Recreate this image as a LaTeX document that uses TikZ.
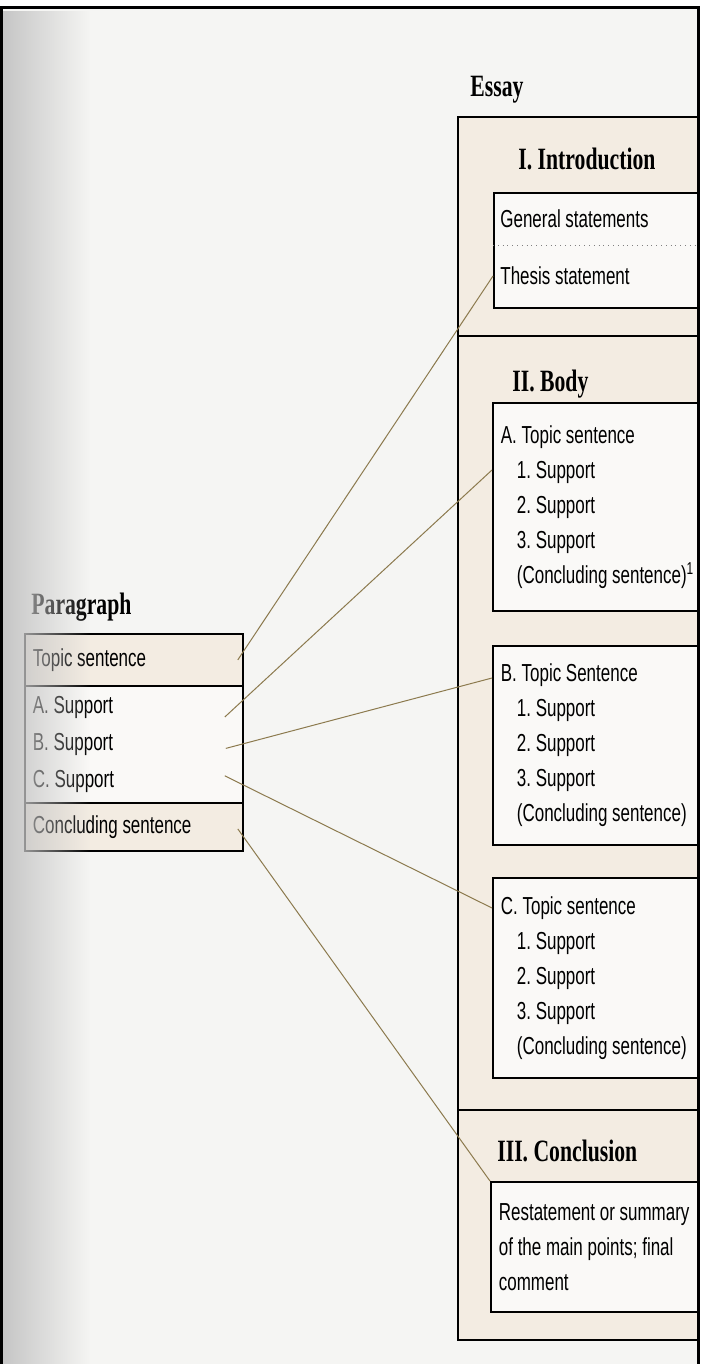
\documentclass[tikz,border=0pt]{standalone}
\usepackage{fontspec}
\setmainfont{Liberation Sans}[FakeStretch=0.69]
\newfontfamily\headfont{Liberation Serif}[FakeStretch=0.7]
\usetikzlibrary{fadings}

\definecolor{paper}{HTML}{F5F5F3}
\definecolor{beige}{HTML}{F3ECE2}
\definecolor{boxwhite}{HTML}{FAF9F7}
\definecolor{linkbrown}{HTML}{8C7A4E}

\newcommand{\bodysize}{\fontsize{12.3}{17.5}\selectfont}
\newcommand{\rowsize}{\fontsize{12.3}{18.5}\selectfont}
\newcommand{\headsize}{\fontsize{15.5}{18}\selectfont}
\newcommand{\ind}{\hspace*{8pt}}

\begin{document}
\frenchspacing
\begin{tikzpicture}[x=0.5pt, y=-0.5pt,
	ebox/.style={draw=black, line width=0.9pt, fill=boxwhite, anchor=north west, inner xsep=4pt, inner ysep=0pt, text width=106pt, align=left, font=\bodysize, execute at begin node={\spaceskip=0pt\xspaceskip=0pt}},
	prow/.style={draw=black, line width=0.9pt, anchor=north west, inner xsep=4pt, inner ysep=0pt, text width=101pt, align=left, font=\bodysize, execute at begin node={\spaceskip=0pt\xspaceskip=0pt}},
	heading/.style={anchor=base west, inner sep=0pt, font=\headfont\bfseries\headsize},
	link/.style={draw=linkbrown, line width=0.5pt}]
	
	\useasboundingbox (0,0) rectangle (704,1364);
	\fill[white] (0,0) rectangle (704,1364);
	
	\begin{scope}
	\clip (3,9) rectangle (697,1364);
	\fill[paper] (3,9) rectangle (697,1364);
	
	% essay frame
	\fill[beige] (458,117) rectangle (720,1340);
	\draw[line width=0.9pt] (720,117) -- (458,117) -- (458,1340) -- (720,1340);
	\draw[line width=0.9pt] (458,336) -- (720,336);
	\draw[line width=0.9pt] (458,1110) -- (720,1110);
	
	\node[heading] (essay) at (470,97) {Essay};
	\node[heading] (intro) at (518,170) {I. Introduction};
	\node[heading] (body) at (512,391) {II. Body};
	\node[heading] (concl) at (497,1161) {III. Conclusion};
	
	\node[ebox, minimum height=57.5pt] (ibox) at (493,192) {};
	\draw[gray, dotted] (493,245) -- (720,245);
	\node[anchor=west, inner sep=0pt, font=\bodysize] (igen) at (500,219) {General statements};
	\node[anchor=west, inner sep=0pt, font=\bodysize] (ithesis) at (500,276) {Thesis statement};
	
	\node[ebox, minimum height=104pt] (boxa) at (492,402) {A. Topic sentence\\ \ind 1. Support\\ \ind 2. Support\\ \ind 3. Support\\ \ind (Concluding sentence)\textsuperscript{1}};
	\node[ebox, minimum height=99.5pt] (boxb) at (492,645) {B. Topic Sentence\\ \ind 1. Support\\ \ind 2. Support\\ \ind 3. Support\\ \ind (Concluding sentence)};
	\node[ebox, minimum height=100pt] (boxc) at (492,877) {C. Topic sentence\\ \ind 1. Support\\ \ind 2. Support\\ \ind 3. Support\\ \ind (Concluding sentence)};
	\node[ebox, minimum height=65pt, text width=107pt] (cbox) at (490,1181) {Restatement or summary\\ of the main points; final\\ comment};
	
	% paragraph
	\node[heading] (para) at (31,614) {Paragraph};
	\node[prow, fill=beige, minimum height=26pt] (ptopic) at (24,633) {Topic sentence};
	\node[prow, fill=boxwhite, minimum height=58.5pt, font=\rowsize] (psup) at (24,685) {A. Support\\B. Support\\C. Support};
	\node[prow, fill=beige, minimum height=24pt] (pconc) at (24,802) {Concluding sentence};
	
	\draw[link] ([xshift=-3pt]ptopic.east) -- (ibox.west |- ithesis.west);
	\draw[link] ([xshift=-9.5pt, yshift=-16pt]psup.north east) -- ([yshift=-34pt]boxa.north west);
	\draw[link] ([xshift=-9pt, yshift=-2pt]psup.east) -- ([yshift=-16.5pt]boxb.north west);
	\draw[link] ([xshift=-9.5pt, yshift=14pt]psup.south east) -- ([yshift=-15.5pt]boxc.north west);
	\draw[link] ([xshift=-3pt, yshift=-1pt]pconc.east) -- (cbox.north west);
	
	% gutter shadow
	\fill[gray!45, path fading=east] (3,9) rectangle (90,1364);
	\end{scope}
	
	\draw[line width=1.5pt] (1.5,1364) -- (1.5,8) -- (698.5,8) -- (698.5,1364);
	
\end{tikzpicture}
\end{document}
